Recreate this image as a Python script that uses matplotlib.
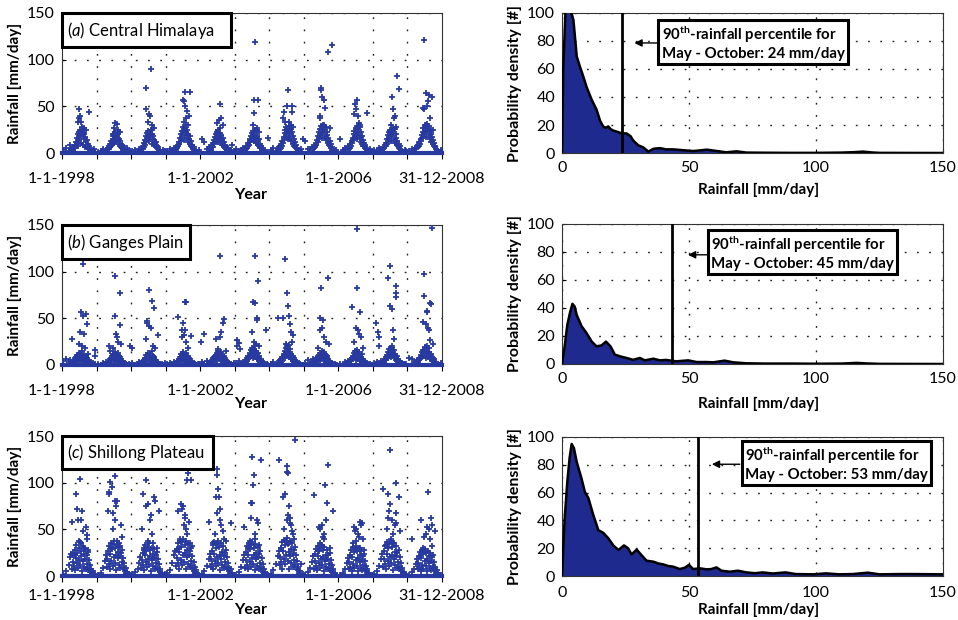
import matplotlib
matplotlib.use("Agg")
import matplotlib.pyplot as plt
import matplotlib.dates as mdates
from matplotlib.patches import Rectangle
from datetime import date, timedelta

plt.rcParams['font.family'] = ['Lato', 'DejaVu Sans']
plt.rcParams['mathtext.fontset'] = 'custom'
plt.rcParams['mathtext.rm'] = 'Lato'
plt.rcParams['mathtext.it'] = 'Lato:italic'
plt.rcParams['mathtext.bf'] = 'Lato:bold'

# ---------------------------------------------------------------- data
YEARS = [1998, 1999, 2000, 2001, 2002, 2003, 2004, 2005, 2006, 2007, 2008]
# day-of-year of each bulk sample (dry season, monsoon season, late year)
SAMPLE_DOY = [15, 45, 70, 90, 100,
              110, 116, 122, 128, 134, 140, 146, 152, 158, 164, 170, 176, 182,
              188, 194, 200, 206, 212, 218, 224, 230, 236, 242, 248, 254, 260,
              266, 272, 278, 284, 290, 296, 302, 308, 314,
              325, 340, 355]

himalaya_bulk = [
    [3,5,2,9,4, 2,4,3,6,5, 9,7,12,10,16, 8,22,14,19,25, 11,18,24,9,21, 15,20,6,17,12, 8,14,5,10,4, 7,3,5,2,1, 2,4,1],
    [1,2,4,2,3, 2,3,5,4,8, 6,10,7,13,9, 15,18,11,20,14, 22,17,12,19,16, 21,10,15,8,13, 6,9,5,7,3, 4,2,3,1,2, 5,1,2],
    [2,3,1,4,2, 3,5,4,8,6, 11,9,14,18,12, 21,16,24,19,13, 22,17,25,10,20, 15,18,9,14,11, 7,12,5,8,4, 6,3,2,2,1, 1,3,2],
    [2,4,2,5,3, 3,6,5,9,7, 12,10,16,13,20, 24,17,28,22,14, 26,19,30,23,16, 25,12,20,15,10, 18,8,13,6,9, 4,6,3,2,1, 2,1,3],
    [15,12,4,6,3, 5,3,7,9,6, 11,14,10,17,13, 20,16,22,12,25, 18,15,21,11,19, 14,9,16,7,12, 5,9,4,6,3, 5,2,3,1,2, 3,9,2],
    [4,2,3,5,2, 3,4,6,5,8, 7,11,9,15,12, 18,14,21,17,24, 13,19,25,16,22, 11,18,14,9,15, 7,10,5,8,4, 3,5,2,1,2, 2,1,16],
    [3,5,2,4,6, 4,7,5,10,8, 13,11,17,14,21, 25,18,28,22,15, 26,20,29,24,16, 27,13,22,18,10, 15,8,12,6,9, 5,4,3,2,1, 2,4,15],
    [13,4,3,6,4, 5,8,6,11,9, 14,12,18,15,22, 26,19,29,23,16, 27,21,30,25,17, 28,14,23,19,11, 16,9,13,7,10, 5,6,3,2,1, 2,3,1],
    [15,3,5,4,6, 4,7,5,10,8, 13,11,16,14,20, 24,17,27,21,15, 29,19,26,23,16, 28,12,22,18,10, 14,8,11,6,9, 4,5,3,2,1, 2,4,1],
    [3,2,5,4,3, 4,6,5,9,7, 11,10,15,12,19, 22,16,25,20,13, 24,18,27,21,14, 26,11,20,16,9, 13,7,10,5,8, 4,3,2,2,1, 1,3,2],
    [2,4,3,5,8, 6,9,7,12,10, 15,13,19,16,23, 27,20,30,24,17, 28,22,31,26,18, 29,15,24,20,12, 17,10,14,8,11, 6,7,4,3,2, 2,1,3],
]
himalaya_peaks = [  # (year, day-of-year, mm/day)
    (1998,183,47),(1998,288,44),(1998,190,40),(1998,178,37),(1998,172,33),(1998,200,33),(1998,210,28),(1998,230,27),(1998,255,25),(1998,165,20),
    (1999,200,32),(1999,215,31),(1999,190,27),(1999,230,25),(1999,245,22),(1999,180,20),
    (2000,217,90),(2000,164,70),(2000,155,47),(2000,190,42),(2000,200,40),(2000,175,33),(2000,225,30),(2000,240,27),(2000,210,25),
    (2001,204,65),(2001,256,65),(2001,180,57),(2001,195,56),(2001,210,50),(2001,230,45),(2001,245,40),(2001,220,38),(2001,190,33),(2001,240,30),
    (2002,209,53),(2002,225,38),(2002,200,35),(2002,180,32),(2002,240,30),(2002,215,27),(2002,190,25),
    (2003,214,119),(2003,208,57),(2003,248,57),(2003,200,43),(2003,190,30),(2003,240,27),(2003,225,25),(2003,255,22),
    (2004,197,67),(2004,185,50),(2004,245,50),(2004,160,44),(2004,240,44),(2004,150,37),(2004,170,33),(2004,210,33),(2004,230,30),(2004,255,28),
    (2005,294,116),(2005,256,108),(2005,182,70),(2005,185,67),(2005,190,60),(2005,215,57),(2005,225,48),(2005,175,40),(2005,172,38),(2005,280,27),(2005,200,30),
    (2006,197,57),(2006,175,53),(2006,190,47),(2006,165,42),(2006,205,40),(2006,215,32),(2006,230,30),(2006,299,43),
    (2007,258,82),(2007,275,69),(2007,200,60),(2007,215,47),(2007,235,40),(2007,225,37),(2007,190,30),(2007,245,28),
    (2008,176,121),(2008,193,64),(2008,230,62),(2008,264,60),(2008,220,56),(2008,210,50),(2008,170,48),(2008,180,47),(2008,240,37),(2008,200,30),(2008,250,25),(2008,275,25),
]

ganges_bulk = [
    [4,6,3,5,2, 2,1,3,5,4, 7,3,9,6,11, 8,5,13,10,7, 12,4,15,9,6, 11,3,8,5,10, 2,7,4,3,5, 2,1,3,0,1, 2,0,1],
    [1,0,2,1,3, 1,2,0,4,3, 6,2,8,5,10, 7,12,4,9,14, 6,11,8,3,13, 7,10,5,9,2, 6,4,3,1,2, 0,1,2,0,1, 0,1,0],
    [2,0,1,3,2, 0,2,3,1,5, 4,8,6,11,3, 9,7,13,10,5, 12,8,4,15,6, 10,3,7,9,2, 5,4,1,3,2, 0,1,0,1,0, 1,0,2],
    [1,2,0,3,1, 2,0,3,4,2, 6,5,9,7,12, 4,10,8,14,6, 11,3,9,13,5, 8,10,2,7,4, 6,1,3,2,1, 0,2,0,1,0, 0,1,1],
    [3,1,4,2,0, 1,3,2,5,4, 7,3,9,6,11, 8,13,5,10,15, 7,12,9,4,14, 6,11,8,3,10, 5,7,2,4,1, 3,0,1,2,0, 1,0,2],
    [2,4,1,3,2, 3,2,5,4,7, 6,10,8,13,9, 16,11,18,14,7, 17,12,20,9,15, 11,6,13,8,4, 10,5,3,6,2, 1,3,0,1,2, 0,1,0],
    [1,3,0,2,4, 3,5,2,6,4, 9,7,12,10,15, 8,18,13,20,11, 16,21,9,14,17, 6,12,8,10,4, 7,3,5,2,1, 3,0,1,0,2, 1,0,0],
    [2,5,1,3,6, 4,2,5,3,7, 5,9,6,11,8, 13,4,10,15,7, 12,9,5,14,6, 11,3,8,10,2, 6,4,3,1,2, 0,1,2,0,1, 1,0,0],
    [1,0,3,2,4, 2,3,1,5,4, 8,6,10,7,13, 9,15,5,11,16, 8,12,6,14,10, 4,9,7,12,3, 6,5,2,4,1, 2,0,1,0,1, 0,1,0],
    [2,3,1,4,2, 3,4,2,6,5, 9,7,11,8,14, 10,17,12,18,9, 15,20,11,13,16, 7,12,9,5,10, 4,6,3,2,4, 1,2,0,1,0, 1,0,1],
    [7,6,2,3,5, 4,3,6,5,8, 7,11,9,14,10, 16,12,19,15,8, 17,13,20,10,14, 18,6,11,9,12, 5,8,4,3,6, 2,1,3,0,1, 1,0,2],
]
ganges_peaks = [
    (1998,225,108),(1998,200,57),(1998,250,55),(1998,222,52),(1998,262,44),(1998,195,35),(1998,230,33),(1998,110,28),(1998,185,22),(1998,210,20),(1998,240,18),(1998,275,12),(1998,355,16),(1998,350,10),
    (1999,195,95),(1999,248,77),(1999,192,53),(1999,250,43),(1999,205,33),(1999,215,30),(1999,230,25),(1999,260,22),(1999,180,18),(1999,135,20),(1999,140,15),(1999,350,20),
    (2000,15,18),(2000,190,80),(2000,225,69),(2000,240,61),(2000,165,47),(2000,170,45),(2000,195,42),(2000,210,40),(2000,282,32),(2000,160,28),(2000,230,20),(2000,255,18),
    (2001,205,68),(2001,212,67),(2001,135,51),(2001,180,45),(2001,170,37),(2001,205,37),(2001,190,32),(2001,175,30),(2001,220,25),(2001,267,31),(2001,240,18),
    (2002,209,117),(2002,250,49),(2002,245,45),(2002,225,35),(2002,210,30),(2002,165,28),(2002,10,25),(2002,40,33),(2002,190,17),(2002,270,15),
    (2003,214,117),(2003,250,90),(2003,195,67),(2003,214,66),(2003,232,50),(2003,238,48),(2003,185,35),(2003,205,25),(2003,225,22),(2003,260,20),(2003,20,27),(2003,45,24),(2003,30,20),(2003,60,17),(2003,330,38),
    (2004,165,114),(2004,190,77),(2004,200,63),(2004,210,52),(2004,150,50),(2004,220,44),(2004,230,35),(2004,255,32),(2004,240,25),(2004,180,22),(2004,90,50),
    (2005,256,93),(2005,182,83),(2005,175,50),(2005,205,48),(2005,190,40),(2005,170,38),(2005,215,30),(2005,235,25),(2005,265,22),(2005,150,18),
    (2006,193,146),(2006,200,83),(2006,145,62),(2006,230,57),(2006,185,40),(2006,210,37),(2006,220,33),(2006,240,30),(2006,170,25),(2006,260,18),
    (2007,183,106),(2007,165,93),(2007,250,85),(2007,245,77),(2007,240,73),(2007,185,63),(2007,200,60),(2007,30,45),(2007,210,38),(2007,50,35),(2007,70,30),(2007,220,28),(2007,60,20),
    (2008,262,147),(2008,180,98),(2008,172,74),(2008,235,66),(2008,250,65),(2008,205,58),(2008,210,57),(2008,165,46),(2008,195,44),(2008,215,40),(2008,225,37),(2008,240,27),(2008,275,22),
]

shillong_bulk = [
    [2,5,12,20,24, 8,15,22,11,28, 6,19,33,14,25, 9,30,17,36,12, 27,21,5,32,16, 24,10,29,18,7, 22,13,26,9,17, 6,12,4,8,3, 5,2,1],
    [1,3,9,16,22, 10,18,27,13,32, 7,24,35,16,29, 11,34,20,38,14, 30,23,6,33,19, 26,12,31,21,9, 25,15,28,10,19, 7,14,5,9,3, 4,2,1],
    [2,4,8,14,20, 9,17,25,12,30, 6,22,33,15,27, 10,31,18,35,13, 28,21,5,30,17, 24,11,29,19,8, 23,14,26,9,18, 6,13,4,8,2, 3,1,2],
    [3,6,14,22,27, 11,19,29,14,35, 8,26,38,17,31, 12,36,22,40,15, 33,25,7,37,20, 28,13,34,23,10, 27,16,30,11,21, 8,15,5,10,3, 6,2,1],
    [2,5,11,18,24, 10,18,27,13,33, 7,24,36,16,30, 11,34,20,37,14, 31,23,6,35,18, 26,12,32,21,9, 25,15,28,10,20, 7,14,5,9,3, 8,3,1],
    [1,4,10,17,23, 9,17,26,12,32, 7,23,35,15,29, 10,33,19,36,13, 30,22,6,34,18, 25,11,31,20,8, 24,14,27,9,19, 6,13,4,8,2, 4,2,1],
    [2,6,13,21,27, 12,20,30,15,36, 8,27,39,18,33, 13,37,23,41,16, 34,26,7,38,21, 29,14,35,24,10, 28,17,31,12,22, 8,16,6,10,3, 5,13,2],
    [1,4,9,15,21, 8,16,24,11,29, 6,21,32,14,27, 9,30,18,33,12, 28,20,5,31,16, 23,10,28,18,7, 22,13,25,8,17, 6,12,4,7,2, 3,1,0],
    [1,3,8,14,19, 7,15,23,10,28, 5,20,31,13,26, 9,29,17,32,11, 27,19,5,30,15, 22,9,27,17,6, 21,12,24,8,16, 5,11,3,7,2, 3,1,1],
    [2,5,11,18,24, 10,18,27,13,33, 7,24,36,16,30, 11,34,20,37,14, 31,23,6,35,18, 26,12,32,21,9, 25,15,28,10,20, 7,14,5,9,3, 4,2,1],
    [1,4,8,13,18, 7,14,21,10,26, 5,19,28,12,24, 8,27,16,29,11, 25,18,5,27,14, 21,9,25,16,6, 20,11,23,8,15, 5,10,3,6,2, 3,1,1],
]
shillong_peaks = [
    (1998,190,104),(1998,148,88),(1998,155,72),(1998,215,70),(1998,170,60),(1998,200,60),(1998,110,58),(1998,250,52),(1998,225,48),(1998,260,44),(1998,270,40),(1998,180,38),(1998,205,35),(1998,235,30),(1998,280,28),(1998,120,25),(1998,140,22),
    (1999,195,107),(1999,140,101),(1999,165,95),(1999,130,90),(1999,135,88),(1999,195,80),(1999,220,80),(1999,205,75),(1999,125,70),(1999,180,68),(1999,200,60),(1999,255,55),(1999,175,50),(1999,275,42),(1999,215,37),(1999,235,35),(1999,245,32),(1999,150,30),
    (2000,157,103),(2000,125,88),(2000,245,85),(2000,255,80),(2000,175,77),(2000,160,75),(2000,295,70),(2000,215,65),(2000,200,60),(2000,115,50),(2000,225,45),(2000,185,38),(2000,235,35),(2000,270,30),(2000,140,28),
    (2001,240,110),(2001,225,103),(2001,270,103),(2001,160,77),(2001,185,75),(2001,175,72),(2001,130,70),(2001,200,65),(2001,210,62),(2001,245,58),(2001,190,55),(2001,215,50),(2001,230,45),(2001,150,40),(2001,255,35),(2001,280,32),(2001,140,30),
    (2002,175,115),(2002,182,108),(2002,190,93),(2002,165,85),(2002,195,85),(2002,205,72),(2002,178,68),(2002,215,60),(2002,95,58),(2002,225,55),(2002,240,48),(2002,160,45),(2002,250,40),(2002,270,37),(2002,330,57),(2002,140,35),
    (2003,179,127),(2003,280,124),(2003,200,108),(2003,192,98),(2003,172,78),(2003,182,78),(2003,170,62),(2003,235,60),(2003,250,57),(2003,95,52),(2003,210,45),(2003,220,40),(2003,160,38),(2003,260,33),(2003,140,30),
    (2004,275,146),(2004,106,124),(2004,190,118),(2004,193,111),(2004,197,110),(2004,170,88),(2004,145,85),(2004,205,75),(2004,200,65),(2004,215,62),(2004,185,60),(2004,225,57),(2004,235,55),(2004,160,50),(2004,245,48),(2004,250,45),(2004,265,40),(2004,175,38),(2004,210,35),(2004,130,30),
    (2005,260,119),(2005,225,98),(2005,105,87),(2005,245,78),(2005,310,70),(2005,235,60),(2005,190,55),(2005,160,52),(2005,175,50),(2005,210,45),(2005,200,42),(2005,215,40),(2005,170,35),(2005,280,30),(2005,150,28),
    (2006,230,58),(2006,255,57),(2006,240,55),(2006,165,52),(2006,190,50),(2006,175,48),(2006,205,45),(2006,215,42),(2006,265,40),(2006,185,38),(2006,150,35),(2006,225,30),(2006,275,28),
    (2007,180,135),(2007,245,100),(2007,111,93),(2007,165,88),(2007,275,85),(2007,185,77),(2007,175,70),(2007,250,68),(2007,160,62),(2007,200,60),(2007,240,57),(2007,230,55),(2007,145,50),(2007,290,48),(2007,210,45),(2007,190,40),(2007,220,35),(2007,130,32),
    (2008,218,90),(2008,250,62),(2008,142,60),(2008,265,55),(2008,210,53),(2008,230,50),(2008,290,48),(2008,200,45),(2008,180,42),(2008,45,40),(2008,240,40),(2008,170,30),(2008,150,25),(2008,260,32),
]

# probability density curves (rainfall mm/day, density)
himalaya_pdf_x = [0, 0.5, 1.5, 2.5, 3.5, 4.5, 5.8, 7, 8.5, 9.7, 11.7, 13.6, 15, 16.2, 17.2, 18.2, 19.2, 20.2, 22, 23.5, 25.4, 27, 28, 30, 32, 34, 36, 38.5, 41, 43.8, 47.7, 51.6, 54, 57, 61, 64.7, 68.7, 72.6, 80, 90, 100, 110, 115, 118.5, 122, 125, 150]
himalaya_pdf_y = [0, 60, 108, 115, 110, 95, 69, 62, 54, 47, 38, 31, 23, 19, 18, 19, 17, 16, 15, 14, 14, 12, 9, 5.5, 4, 1, 3, 3.5, 2.6, 2.6, 2, 1.4, 1.8, 2.4, 1.4, 0.5, 1.2, 0.3, 0.2, 0.1, 0.1, 0.3, 0.6, 1.0, 0.4, 0.1, 0]
ganges_pdf_x = [0, 1, 2.1, 3.2, 4.1, 5, 5.8, 7.7, 9.7, 11.7, 13.6, 15.6, 17.3, 19.1, 20.8, 22.8, 25.4, 28, 30.7, 32.6, 36, 38.5, 41, 45, 49.7, 53, 57, 59.6, 64, 67.4, 72.6, 80, 90, 100, 110, 116, 120, 125, 150]
ganges_pdf_y = [0, 12, 28, 37, 43, 41, 35, 27, 22, 16, 12.6, 13.3, 16, 12.6, 6.7, 5.5, 4.3, 3, 4.3, 2.6, 3.8, 2.6, 2.9, 1.9, 2.6, 1.4, 1.4, 1.2, 2.4, 1.2, 0.5, 0.3, 0.3, 0.2, 0.3, 0.8, 0.4, 0.1, 0]
shillong_pdf_x = [0, 1, 2.1, 3, 3.8, 4.7, 5.8, 7.7, 9, 10.4, 12.3, 14.3, 16.3, 18.3, 20.2, 22.2, 24.4, 26, 27.4, 29.4, 31.3, 33.3, 36, 37.9, 39.8, 41.8, 43.8, 46.4, 48.4, 50, 51.6, 54.3, 56.9, 58.8, 60.8, 62.8, 66, 69.3, 72.6, 75.9, 79, 83, 88, 92, 98.8, 104, 109, 114.5, 120.4, 125, 133, 138, 150]
shillong_pdf_y = [0, 40, 68, 85, 95, 92, 82, 70, 60.5, 56, 44, 33, 31, 27, 22, 18.7, 22, 20, 15.5, 19, 15, 11, 10.3, 9, 8.4, 7.2, 6.7, 5, 6, 8, 5, 5.5, 4.8, 5, 6.2, 3.8, 3.1, 3.8, 2.6, 2, 2.6, 1.8, 2.6, 1.4, 1.2, 1.9, 1.2, 1.4, 2.4, 1.2, 1.4, 1.4, 1.2]

panel_names = ["Central Himalaya", "Ganges Plain", "Shillong Plateau"]
panel_letters = ["a", "b", "c"]
pct_line = [23.5, 43.5, 53.5]      # drawn position of the 90th percentile
pct_label = [24, 45, 53]           # value printed in the box
zero_level = 0
date_ticks = [date(1998, 1, 1), date(2002, 1, 1), date(2006, 1, 1), date(2008, 12, 31)]
date_tick_labels = ["1-1-1998", "1-1-2002", "1-1-2006", "31-12-2008"]

# ---------------------------------------------------------------- style / layout
W, H = 958, 620
BLUE = '#283aa0'
NAVY = '#1e2a8e'
FS = 11.5
LFS = 11
DOT = (0, (1.3, 7.5))

fig = plt.figure(figsize=(W / 100, H / 100), dpi=100)


def px_axes(x0, y0, x1, y1):
    return fig.add_axes([x0 / W, 1 - y1 / H, (x1 - x0) / W, (y1 - y0) / H])


left_px = [(62, 13, 442, 153), (62, 225, 442, 365), (62, 436, 442, 576)]
right_px = [(562, 13, 943, 153), (562, 224, 943, 364), (562, 437, 943, 576)]
xtick_pad = [11, 11, 6]
right_xtick_pad = [6, 6, 7]
year_label_y = [-0.25, -0.229, -0.194]
rain_label_y = [-0.214, -0.236, -0.194]
label_box_w = [0.445, 0.337, 0.397]
label_box_h = [0.243, 0.243, 0.236]
# annotation box centre, arrow y, box left, arrow tip (data units)
ann_layout = [(75.2, 78.6, 78.6, 37.4, 28.5),
              (94.7, 79.3, 78.0, 57.0, 49.6),
              (108.0, 80.6, 80.4, 70.0, 59.0)]

bulks = [himalaya_bulk, ganges_bulk, shillong_bulk]
peaks = [himalaya_peaks, ganges_peaks, shillong_peaks]
pdfs = [(himalaya_pdf_x, himalaya_pdf_y), (ganges_pdf_x, ganges_pdf_y), (shillong_pdf_x, shillong_pdf_y)]


def to_num(year, doy):
    return mdates.date2num(date(year, 1, 1) + timedelta(days=doy - 1))


for i in range(3):
    # ---------------- left: daily rainfall time series
    ax = px_axes(*left_px[i])
    xs, ys = [], []
    for year, vals in zip(YEARS, bulks[i]):
        for doy, v in zip(SAMPLE_DOY, vals):
            xs.append(to_num(year, doy))
            ys.append(v)
    for year, doy, v in peaks[i]:
        xs.append(to_num(year, doy))
        ys.append(v)
    ax.plot(xs, ys, linestyle='none', marker='+', ms=4.5, mew=1.3, color=BLUE, zorder=3)
    ax.axhline(zero_level, color=BLUE, lw=3, zorder=4, clip_on=False)
    ax.set_xlim(mdates.date2num(date(1998, 1, 1)), mdates.date2num(date(2008, 12, 31)))
    ax.set_ylim(0, 150)
    ax.set_yticks([0, 50, 100, 150])
    ax.set_xticks([mdates.date2num(d) for d in date_ticks])
    ax.set_xticklabels(date_tick_labels)
    ax.set_xticks([mdates.date2num(date(y, 1, 1)) for y in YEARS[1:]], minor=True)
    ax.tick_params(axis='x', which='both', direction='out', length=4, width=0.8,
                   pad=xtick_pad[i] - 1, labelsize=FS)
    ax.tick_params(axis='y', direction='in', length=3, width=0.8, pad=5, labelsize=FS)
    ax.grid(which='minor', axis='x', linestyle=DOT, color='#222222', lw=1.0, zorder=0)
    ax.grid(which='major', axis='y', linestyle=DOT, color='#222222', lw=1.0, zorder=0)
    ax.set_axisbelow(True)
    for s in ax.spines.values():
        s.set_linewidth(0.8)
        s.set_color('#333333')
    ax.set_ylabel('Rainfall [mm/day]', fontweight='bold', fontsize=LFS)
    ax.yaxis.set_label_coords(-0.105, 0.5)
    ax.set_xlabel('Year', fontweight='bold', fontsize=LFS + 0.5)
    ax.xaxis.set_label_coords(0.495, year_label_y[i])
    ax.xaxis.label.set_va('top')
    ax.add_patch(Rectangle((0, 1 - label_box_h[i]), label_box_w[i], label_box_h[i],
                           transform=ax.transAxes, fc='white', ec='black', lw=2.2,
                           clip_on=False, zorder=6))
    ax.text(0.012, 1 - label_box_h[i] / 2, '($\\it{%s}$) %s' % (panel_letters[i], panel_names[i]),
            transform=ax.transAxes, ha='left', va='center', fontsize=12, zorder=7)

    # ---------------- right: probability density
    ax2 = px_axes(*right_px[i])
    px, py = pdfs[i]
    ax2.fill_between(px, py, 0, color=NAVY, lw=0, zorder=2)
    ax2.plot(px, py, color='black', lw=1.8, zorder=3)
    ax2.axvline(pct_line[i], color='black', lw=2.0, zorder=4)
    ax2.set_xlim(0, 150)
    ax2.set_ylim(0, 100)
    ax2.set_xticks([0, 50, 100, 150])
    ax2.set_yticks([0, 20, 40, 60, 80, 100])
    ax2.tick_params(axis='x', direction='in', length=3, width=0.8, pad=right_xtick_pad[i], labelsize=FS)
    ax2.tick_params(axis='y', direction='in', length=3, width=0.8, pad=5, labelsize=FS)
    ax2.grid(True, linestyle=DOT, color='#222222', lw=1.0, zorder=0)
    ax2.set_axisbelow(True)
    for s in ax2.spines.values():
        s.set_linewidth(0.8)
        s.set_color('#333333')
    ax2.set_ylabel('Probability density [#]', fontweight='bold', fontsize=LFS + 0.5)
    ax2.yaxis.set_label_coords(-0.105, 0.5)
    ax2.set_xlabel('Rainfall [mm/day]', fontweight='bold', fontsize=LFS)
    ax2.xaxis.set_label_coords(0.517, rain_label_y[i])
    ax2.xaxis.label.set_va('top')
    cx, cy, ay, bl, tip = ann_layout[i]
    ax2.annotate('', xy=(tip, ay), xytext=(bl, ay),
                 arrowprops=dict(arrowstyle='-|>', color='black', lw=1.0,
                                 mutation_scale=11, shrinkA=0, shrinkB=0), zorder=5)
    ax2.text(cx, cy, '90$^{\\mathbf{th}}$-rainfall percentile for\nMay - October: %d mm/day' % pct_label[i],
             ha='center', va='center', fontweight='bold', fontsize=10.8, zorder=6,
             multialignment='left', linespacing=1.15,
             bbox=dict(boxstyle='square,pad=0.22', fc='white', ec='black', lw=2.2))

fig.savefig('out.png', dpi=100)
